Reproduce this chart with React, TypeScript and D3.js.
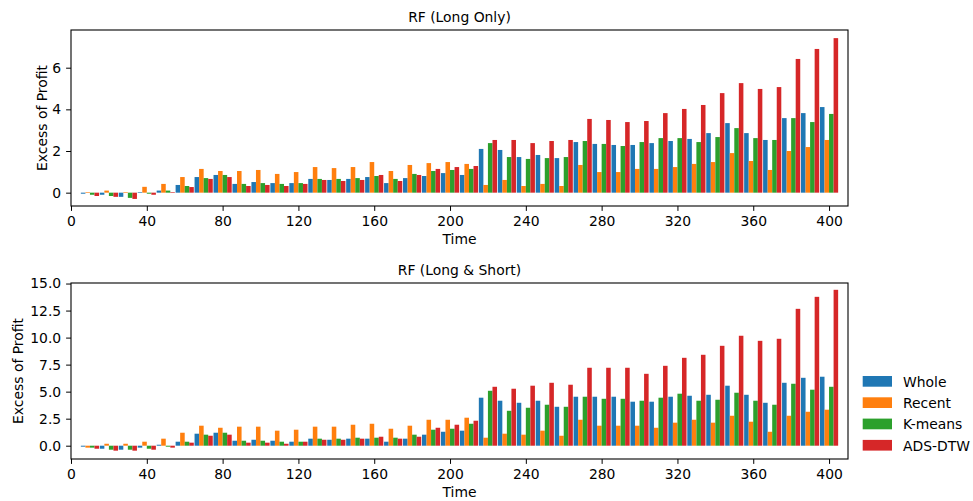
import React, { useEffect, useRef } from 'react';
import * as d3 from 'd3';

const times = [10, 20, 30, 40, 50, 60, 70, 80, 90, 100, 110, 120, 130, 140, 150, 160, 170, 180, 190, 200,
  210, 220, 230, 240, 250, 260, 270, 280, 290, 300, 310, 320, 330, 340, 350, 360, 370, 380, 390, 400];
const seriesNames = ['Whole', 'Recent', 'K-means', 'ADS-DTW'];
const colors = ['#1f77b4', '#ff7f0e', '#2ca02c', '#d62728'];
const xTicks = [0, 40, 80, 120, 160, 200, 240, 280, 320, 360, 400];
const longOnlyTicks = [0, 2, 4, 6];
const longShortTicks = [0, 2.5, 5, 7.5, 10, 12.5, 15];

// RF (Long Only)
const wholeLong = [-0.05, -0.1, -0.2, 0.03, 0.1, 0.37, 0.75, 0.85, 0.42, 0.51, 0.46, 0.46, 0.66, 0.61, 0.66, 0.75, 0.46, 0.7, 0.8, 0.94,
  0.85, 2.1, 2.05, 1.71, 1.81, 1.66, 2.43, 2.34, 2.29, 2.29, 2.38, 2.48, 2.58, 2.86, 3.34, 2.86, 2.53, 3.58, 3.82, 4.11];
const recentLong = [0.03, 0.1, 0.03, 0.28, 0.42, 0.75, 1.14, 1.04, 1.04, 1.09, 0.9, 0.99, 1.23, 1.18, 1.23, 1.47, 1.04, 1.33, 1.42, 1.47,
  1.38, 0.37, 0.61, 0.32, 0.42, 0.32, 1.33, 0.99, 0.99, 1.14, 1.14, 1.23, 1.38, 1.47, 1.9, 1.52, 1.09, 2.0, 2.19, 2.53];
const kmeansLong = [-0.1, -0.16, -0.25, -0.05, 0.1, 0.32, 0.7, 0.85, 0.42, 0.46, 0.42, 0.46, 0.66, 0.66, 0.7, 0.8, 0.66, 0.9, 1.04, 1.09,
  1.14, 2.38, 1.71, 1.62, 1.66, 1.71, 2.48, 2.34, 2.24, 2.43, 2.62, 2.62, 2.43, 2.67, 3.1, 2.62, 2.53, 3.58, 3.39, 3.78];
const adsLong = [-0.16, -0.2, -0.3, -0.1, 0.03, 0.27, 0.66, 0.75, 0.32, 0.37, 0.32, 0.42, 0.61, 0.56, 0.61, 0.85, 0.56, 0.85, 1.14, 1.23,
  1.28, 2.53, 2.53, 2.38, 2.48, 2.53, 3.54, 3.49, 3.39, 3.44, 3.82, 4.02, 4.21, 4.78, 5.26, 4.98, 5.07, 6.42, 6.9, 7.42];

// RF (Long & Short)
const wholeLS = [-0.09, -0.28, -0.37, -0.18, 0.09, 0.37, 1.11, 1.2, 0.46, 0.55, 0.46, 0.37, 0.65, 0.55, 0.65, 0.65, 0.37, 0.65, 1.02, 1.29,
  1.39, 4.44, 4.16, 3.97, 4.16, 3.6, 4.53, 4.53, 4.53, 4.07, 4.07, 4.53, 4.62, 4.71, 5.55, 4.71, 3.97, 5.82, 6.28, 6.38];
const recentLS = [-0.18, 0.18, 0.18, 0.37, 0.65, 1.2, 1.85, 1.66, 1.76, 1.76, 1.39, 1.48, 1.76, 1.76, 1.94, 2.03, 1.57, 1.85, 2.4, 2.4,
  2.59, 0.74, 1.11, 1.02, 1.39, 0.92, 2.4, 1.85, 1.85, 1.85, 1.66, 2.13, 2.4, 2.13, 2.77, 2.22, 1.29, 2.77, 3.14, 3.33];
const kmeansLS = [-0.18, -0.37, -0.37, -0.28, -0.09, 0.37, 1.02, 1.2, 0.46, 0.46, 0.37, 0.37, 0.65, 0.65, 0.74, 0.74, 0.74, 1.02, 1.48, 1.57,
  2.03, 5.08, 3.23, 3.51, 3.79, 3.6, 4.53, 4.34, 4.34, 4.16, 4.44, 4.81, 4.16, 4.25, 4.9, 4.16, 3.79, 5.73, 5.18, 5.45];
const adsLS = [-0.28, -0.46, -0.46, -0.37, -0.18, 0.28, 0.92, 1.02, 0.28, 0.28, 0.18, 0.37, 0.55, 0.55, 0.65, 0.83, 0.65, 0.83, 1.66, 1.94,
  2.31, 5.45, 5.27, 5.55, 5.82, 5.64, 7.21, 7.21, 7.21, 6.65, 7.39, 8.13, 8.41, 9.24, 10.17, 9.7, 9.89, 12.66, 13.77, 14.42];

const FONT = 'DejaVu Sans';
const FS = 13.9;

function App() {
  const ref = useRef<SVGSVGElement>(null);

  useEffect(() => {
    if (!ref.current) return;
    const svg = d3.select(ref.current);
    svg.selectAll('*').remove();

    const left = 71;
    const right = 848;
    const barW = 2.4;
    const x = d3.scaleLinear().domain([0, 410]).range([left, right]);

    const panels = [
      { title: 'RF (Long Only)', top: 30, bottom: 206, domain: [-0.64, 7.81], ticks: longOnlyTicks,
        fmt: d3.format('d'), series: [wholeLong, recentLong, kmeansLong, adsLong], labelX: 46.5 },
      { title: 'RF (Long & Short)', top: 283, bottom: 459, domain: [-1.23, 15.05], ticks: longShortTicks,
        fmt: d3.format('.1f'), series: [wholeLS, recentLS, kmeansLS, adsLS], labelX: 22.5 },
    ];

    panels.forEach(p => {
      const y = d3.scaleLinear().domain(p.domain).range([p.bottom, p.top]);
      const g = svg.append('g');

      // bars
      p.series.forEach((vals, k) => {
        g.append('g')
          .selectAll('rect')
          .data(vals)
          .join('rect')
          .attr('x', (d, i) => x(times[i] - 2 * barW + k * barW))
          .attr('width', x(barW) - x(0))
          .attr('y', d => y(Math.max(0, d)))
          .attr('height', d => Math.abs(y(d) - y(0)))
          .attr('fill', colors[k]);
      });

      // axes
      const gx = g.append('g')
        .attr('transform', `translate(0,${p.bottom})`)
        .call(d3.axisBottom(x).tickValues(xTicks).tickFormat(d3.format('d')).tickSize(4.9).tickPadding(4.9));
      gx.select('.domain').remove();
      gx.attr('font-size', FS).attr('font-family', FONT);
      gx.selectAll('text').attr('fill', '#000');

      const gy = g.append('g')
        .attr('transform', `translate(${left},0)`)
        .call(d3.axisLeft(y).tickValues(p.ticks).tickFormat(p.fmt as any).tickSize(4.9).tickPadding(4.9));
      gy.select('.domain').remove();
      gy.attr('font-size', FS).attr('font-family', FONT);
      gy.selectAll('text').attr('fill', '#000');

      // frame
      g.append('rect')
        .attr('x', left)
        .attr('y', p.top)
        .attr('width', right - left)
        .attr('height', p.bottom - p.top)
        .attr('fill', 'none')
        .attr('stroke', '#000')
        .attr('stroke-width', 1.1);

      // title and labels
      g.append('text')
        .attr('x', (left + right) / 2)
        .attr('y', p.top - 8.3)
        .attr('text-anchor', 'middle')
        .attr('font-family', FONT)
        .attr('font-size', FS)
        .text(p.title);

      g.append('text')
        .attr('x', (left + right) / 2)
        .attr('y', p.bottom + 38)
        .attr('text-anchor', 'middle')
        .attr('font-family', FONT)
        .attr('font-size', FS)
        .text('Time');

      g.append('text')
        .attr('transform', `translate(${p.labelX},${(p.top + p.bottom) / 2}) rotate(-90)`)
        .attr('text-anchor', 'middle')
        .attr('font-family', FONT)
        .attr('font-size', FS)
        .text('Excess of Profit');
    });

    // legend
    const legend = svg.append('g').attr('transform', 'translate(862.7,376)');
    seriesNames.forEach((name, k) => {
      const row = legend.append('g').attr('transform', `translate(0,${k * 21.3})`);
      row.append('rect').attr('width', 29.3).attr('height', 10.7).attr('fill', colors[k]);
      row.append('text')
        .attr('x', 40.3)
        .attr('y', 10.7)
        .attr('font-family', FONT)
        .attr('font-size', FS)
        .text(name);
    });
  }, []);

  return (
    <svg ref={ref} width={973} height={501}
      style={{ position: 'absolute', left: 0, top: 0, background: '#fff' }} />
  );
}

export default App;
